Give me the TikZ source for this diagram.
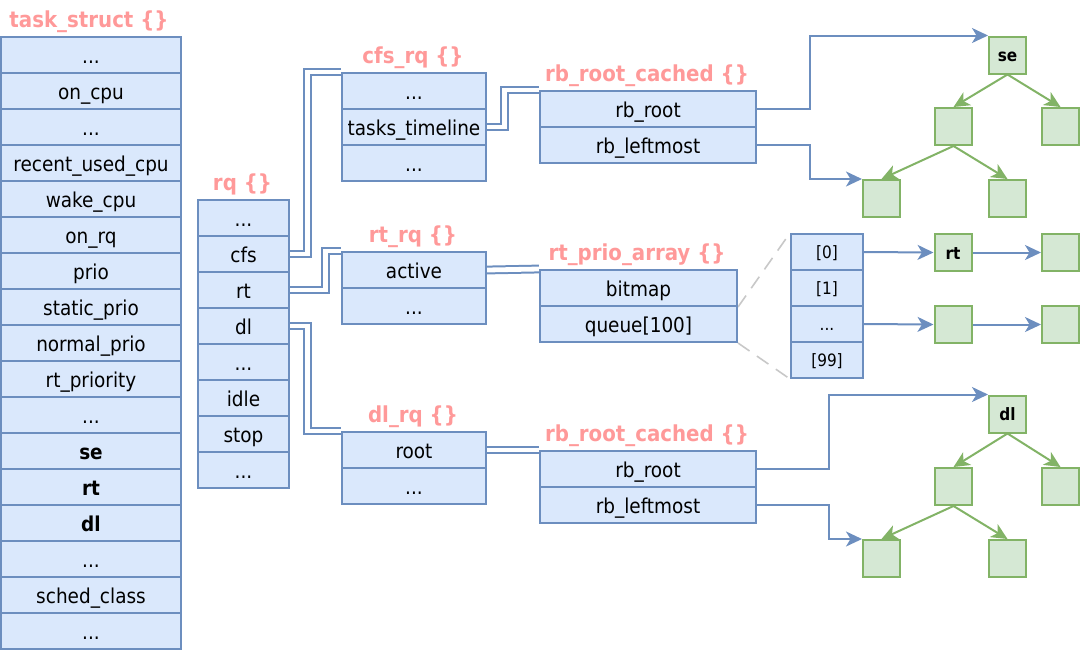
\documentclass[tikz,border=0pt]{standalone}
\usepackage{fontspec}
\setmainfont{DejaVu Sans Condensed}
\usetikzlibrary{arrows.meta,backgrounds}
\definecolor{bl}{HTML}{6C8EBF}
\definecolor{blf}{HTML}{DAE8FC}
\definecolor{gr}{HTML}{82B366}
\definecolor{grf}{HTML}{D5E8D4}
\definecolor{pk}{HTML}{FF9999}
\definecolor{dg}{HTML}{C8C8C8}
\newcommand\mydots{...}
\begin{document}
\begin{tikzpicture}[x=1pt,y=-1pt,
  fld/.style={draw=bl, fill=blf, line width=2pt, minimum height=36pt, inner sep=0pt, text height=20pt, text depth=4pt, font=\fontsize{20.5}{24}\selectfont},
  sfld/.style={fld, text height=17pt, text depth=4pt, font=\fontsize{17}{20}\selectfont},
  ttl/.style={text=pk, font=\fontsize{22}{26}\selectfont\bfseries, inner sep=0pt, anchor=base},
  gn/.style={draw=gr, fill=grf, line width=2pt, minimum size=37pt, inner sep=0pt, text height=17pt, text depth=4pt, font=\fontsize{17}{20}\selectfont\bfseries},
  ptr/.style={draw=bl, line width=2pt, double=white, double distance=4.8pt},
  arr/.style={draw=bl, line width=2pt, -{Stealth[length=16pt,width=15pt,inset=4.5pt]}},
  garr/.style={draw=gr, line width=2pt, -{Stealth[length=16pt,width=15pt,inset=4.5pt]}},
  dsh/.style={draw=dg, line width=1.6pt, dash pattern=on 14pt off 9pt}
]
\useasboundingbox (0,0) rectangle (1080,649);

% titles
\node[ttl] (tt0) at (89,27) {task\_struct \{\}};
\node[ttl] (tt1) at (242.5,190) {rq \{\}};
\node[ttl] (tt2) at (413,63) {cfs\_rq \{\}};
\node[ttl] (tt3) at (413,242) {rt\_rq \{\}};
\node[ttl] (tt4) at (413,422) {dl\_rq \{\}};
\node[ttl] (tt5) at (647,81) {rb\_root\_cached \{\}};
\node[ttl] (tt6) at (637,260) {rt\_prio\_array \{\}};
\node[ttl] (tt7) at (647,441) {rb\_root\_cached \{\}};

% task_struct
\foreach \t [count=\i] in {\mydots, on\_cpu, \mydots, recent\_used\_cpu, wake\_cpu, on\_rq, prio, static\_prio, normal\_prio, rt\_priority, \mydots, \textbf{se}, \textbf{rt}, \textbf{dl}, \mydots, sched\_class, \mydots}
  \node[fld, minimum width=180pt] (ts\i) at (91,{55+36*(\i-1)}) {\t};

% rq
\foreach \t [count=\i] in {\mydots, cfs, rt, dl, \mydots, idle, stop, \mydots}
  \node[fld, minimum width=91pt] (rq\i) at (243.5,{218+36*(\i-1)}) {\t};

% cfs_rq
\node[fld, minimum width=144pt] (c1) at (414,91) {\mydots};
\node[fld, minimum width=144pt] (c2) at (414,127) {tasks\_timeline};
\node[fld, minimum width=144pt] (c3) at (414,163) {\mydots};
% rt_rq
\node[fld, minimum width=144pt] (r1) at (414,270) {active};
\node[fld, minimum width=144pt] (r2) at (414,306) {\mydots};
% dl_rq
\node[fld, minimum width=144pt] (d1) at (414,450) {root};
\node[fld, minimum width=144pt] (d2) at (414,486) {\mydots};
% rb_root_cached top
\node[fld, minimum width=216pt] (b1) at (648,109) {rb\_root};
\node[fld, minimum width=216pt] (b2) at (648,145) {rb\_leftmost};
% rt_prio_array
\node[fld, minimum width=197pt] (p1) at (638.5,288) {bitmap};
\node[fld, minimum width=197pt] (p2) at (638.5,324) {queue[100]};
% rb_root_cached bottom
\node[fld, minimum width=216pt] (e1) at (648,469) {rb\_root};
\node[fld, minimum width=216pt] (e2) at (648,505) {rb\_leftmost};
% array
\node[sfld, minimum width=72pt] (a0) at (827,252) {[0]};
\node[sfld, minimum width=72pt] (a1) at (827,288) {[1]};
\node[sfld, minimum width=72pt] (a2) at (827,324) {\mydots};
\node[sfld, minimum width=72pt] (a3) at (827,360) {[99]};

% green nodes: top tree
\node[gn] (se) at (1007.5,55) {se};
\node[gn] (t1) at (953.5,126.5) {};
\node[gn] (t2) at (1060.5,126.5) {};
\node[gn] (t3) at (881.5,198.5) {};
\node[gn] (t4) at (1007.5,198.5) {};
% rt list
\node[gn] (rtn) at (953,252.5) {rt};
\node[gn] (rt2) at (1060.5,252.5) {};
\node[gn] (q1) at (953,324.5) {};
\node[gn] (q2) at (1060.5,324.5) {};
% bottom tree
\node[gn] (dln) at (1007.5,414) {dl};
\node[gn] (u1) at (953.5,486.5) {};
\node[gn] (u2) at (1060.5,486.5) {};
\node[gn] (u3) at (881.5,558.5) {};
\node[gn] (u4) at (1007.5,558.5) {};

\begin{scope}[on background layer]
  \draw[ptr] (rq2.east) -- ++(17.5,0) |- (c1.north west);
  \draw[ptr] (rq3.east) -- ++(35.5,0) |- (r1.north west);
  \draw[ptr] (rq4.east) -- ++(17.5,0) |- (d1.north west);
  \draw[ptr] (c2.east) -- ++(17.5,0) |- (b1.north west);
  \draw[ptr] (r1.east) -- (p1.north west);
  \draw[ptr] (d1.east) -- (d1.east -| e1.west);
  \draw[dsh] (p1.south east) -- (a0.north west);
  \draw[dsh] (p2.south east) -- (a3.south west);
\end{scope}

% blue arrows
\draw[arr] (b1.east) -- ++(53,0) |- (se.north west);
\draw[arr] (b2.east) -- ++(53,0) |- (t3.north west);
\draw[arr] (e1.east) -- ++(72,0) |- (dln.north west);
\draw[arr] (e2.east) -- ++(72,0) |- (u3.north west);
\draw[arr] (a0.east) -- (rtn.west);
\draw[arr] (rtn.east) -- (rt2.west);
\draw[arr] (a2.east) -- (q1.west);
\draw[arr] (q1.east) -- (q2.west);

% green arrows
\draw[garr] (se.south) -- (t1.north);
\draw[garr] (se.south) -- (t2.north);
\draw[garr] (t1.south) -- (t3.north);
\draw[garr] (t1.south) -- (t4.north);
\draw[garr] (dln.south) -- (u1.north);
\draw[garr] (dln.south) -- (u2.north);
\draw[garr] (u1.south) -- (u3.north);
\draw[garr] (u1.south) -- (u4.north);
\end{tikzpicture}
\end{document}
